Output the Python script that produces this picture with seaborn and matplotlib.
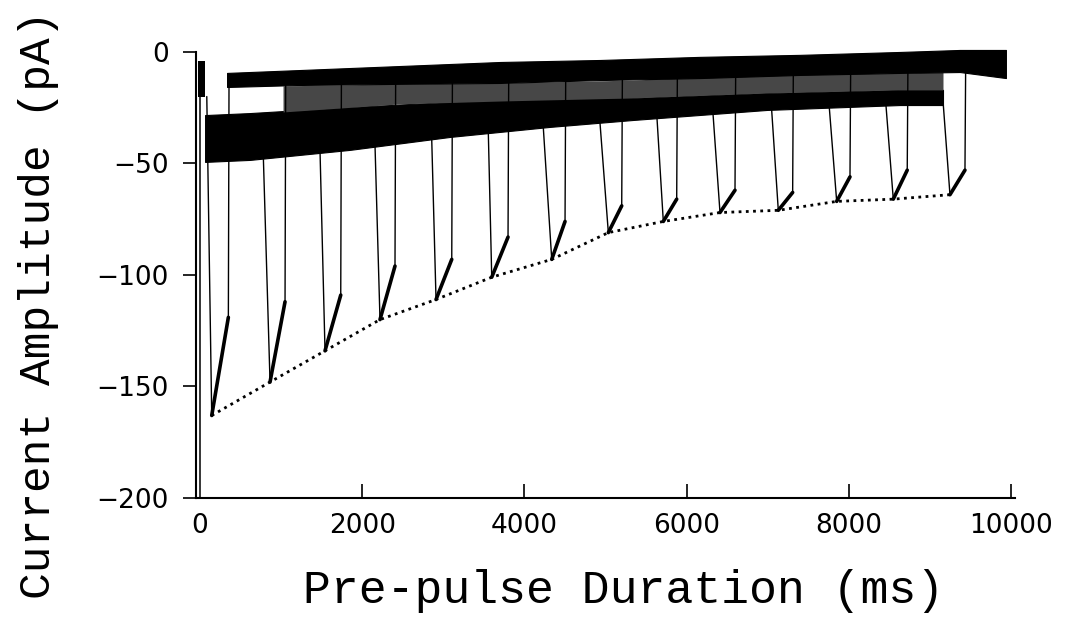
import numpy as np
import pandas as pd
import matplotlib
matplotlib.use("Agg")
import matplotlib.pyplot as plt
import seaborn as sns

# ---------------- data ----------------
# test pulses: start of drop, time of peak, end of recovery (ms); amplitudes (pA)
pulse_start = [83, 781, 1480, 2158, 2857, 3555, 4233, 4932, 5635, 6326, 7049, 7760, 8459, 9166]
pulse_peak_t = [144, 863, 1541, 2219, 2910, 3597, 4337, 5035, 5713, 6412, 7131, 7851, 8549, 9248]
pulse_end_t = [349, 1048, 1735, 2404, 3104, 3798, 4501, 5200, 5878, 6597, 7308, 8015, 8721, 9433]
peak_amp = [-163, -148, -134, -120, -111, -101, -93, -81, -76, -72, -71, -67, -66, -64]
end_amp = [-119, -112, -109, -96, -93, -83, -76, -69, -66, -62, -63, -56, -53, -53]

# noisy current bands (upper / lower envelope)
top_t = [333, 1233, 2466, 3699, 4932, 6165, 7398, 8631, 9371, 9938]
top_hi = [-9.4, -8.1, -6.3, -4.5, -3.6, -2.2, -1.3, 0.0, 0.9, 0.9]
top_lo = [-15.7, -14.8, -14.3, -13.9, -12.6, -11.7, -10.3, -9.4, -9.0, -11.7]

mid_t = [1023, 2466, 3699, 5339, 6991, 8631, 9162]
mid_hi = [-15.2, -14.3, -13.9, -12.6, -9.9, -9.4, -9.0]
mid_lo = [-26.9, -23.3, -22.0, -20.6, -18.4, -17.0, -17.0]

hold_t = [62, 617, 1850, 3083, 4316, 5339, 6991, 8631, 9162]
hold_hi = [-28.3, -27.4, -24.7, -22.4, -20.2, -20.6, -18.4, -17.0, -17.0]
hold_lo = [-49.3, -48.4, -43.9, -38.1, -33.6, -30.5, -26.0, -23.8, -23.8]

init_t = [-30, 60]
init_hi = [-4, -4]
init_lo = [-20, -20]

transient_t = [0, 0]
transient_v = [-15, -200]

x_ticks = [0, 2000, 4000, 6000, 8000, 10000]
y_ticks = [0, -50, -100, -150, -200]
x_label = "Pre-pulse Duration (ms)"
y_label = "Current Amplitude (pA)"

# ---------------- figure ----------------
sns.set_theme(style="ticks")
plt.rcParams["font.family"] = ["DejaVu Sans"]
plt.rcParams["axes.unicode_minus"] = True

W, H = 1068, 632
fig = plt.figure(figsize=(W / 100, H / 100), dpi=100)
ax = fig.add_axes([196 / W, 134 / H, 819 / W, 450.5 / H])

# bands
ax.fill_between(init_t, init_lo, init_hi, color="black", lw=0)
ax.fill_between(hold_t, hold_lo, hold_hi, color="black", lw=0.8, edgecolor="black")
ax.fill_between(mid_t, mid_lo, mid_hi, color="0.28", lw=0)
ax.fill_between(top_t, top_lo, top_hi, color="black", lw=0.8, edgecolor="black")

# capacitive transient at t = 0
sns.lineplot(x=transient_t, y=transient_v, color="black", lw=1.1, ax=ax,
             estimator=None, sort=False)

# pulse traces: thin drop and return lines, thick noisy recovery
thin_rows, thick_rows = [], []
hold_start = np.interp(pulse_start, hold_t, hold_lo)
top_return = np.interp(pulse_end_t, top_t, top_lo)
for i in range(len(pulse_start)):
    thin_rows += [(f"d{i}", pulse_start[i], hold_start[i] if i else init_lo[1]),
                  (f"d{i}", pulse_peak_t[i], peak_amp[i])]
    thin_rows += [(f"u{i}", pulse_end_t[i], end_amp[i]),
                  (f"u{i}", pulse_end_t[i] + 8, top_return[i])]
    thick_rows += [(f"r{i}", pulse_peak_t[i], peak_amp[i]),
                   (f"r{i}", pulse_end_t[i], end_amp[i])]
df_thin = pd.DataFrame(thin_rows, columns=["seg", "t", "v"])
df_thick = pd.DataFrame(thick_rows, columns=["seg", "t", "v"])
sns.lineplot(data=df_thin, x="t", y="v", units="seg", estimator=None, sort=False,
             color="black", lw=1.0, ax=ax)
sns.lineplot(data=df_thick, x="t", y="v", units="seg", estimator=None, sort=False,
             color="black", lw=2.6, ax=ax)

# dotted envelope through the peaks
sns.lineplot(x=pulse_peak_t, y=peak_amp, color="black", lw=2.0, ax=ax,
             estimator=None, sort=False, linestyle=(0, (1, 1.6)))

# ---------------- axes styling ----------------
ax.set_xlim(-50, 10050)
ax.set_ylim(-200, 2)
sns.despine(ax=ax)
ax.spines["left"].set_bounds(-200, 0)
for s in ("left", "bottom"):
    ax.spines[s].set_linewidth(1.5)
    ax.spines[s].set_color("black")

ax.set_xticks(x_ticks)
ax.set_xticklabels([str(v) for v in x_ticks])
ax.set_yticks(y_ticks)
ax.set_yticklabels([str(v).replace("-", "\u2212") for v in y_ticks])
ax.tick_params(axis="x", direction="in", length=10, width=1.2, pad=11,
               labelsize=19, colors="black")
ax.tick_params(axis="y", direction="out", length=9.5, width=1.2, pad=10,
               labelsize=19, colors="black")
ax.xaxis.get_major_ticks()[0].tick1line.set_visible(False)

ax.set_xlabel("")
ax.set_ylabel("")
fig.text(624 / W, 1 - 603 / H, x_label, family=["Liberation Mono", "DejaVu Sans Mono"],
         fontsize=33.5, ha="center", va="baseline", color="black")
fig.text(39 / W, 1 - 305 / H, y_label, family=["Liberation Mono", "DejaVu Sans Mono"],
         fontsize=32, ha="center", va="center", rotation=90, color="black")

fig.savefig("out.png", dpi=100)
